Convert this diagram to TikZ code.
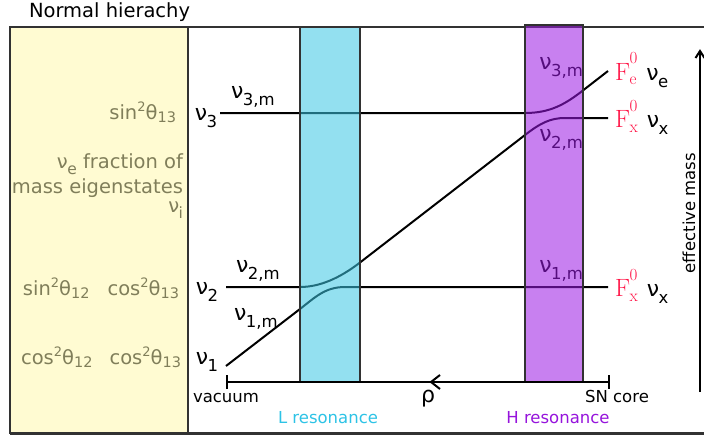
\documentclass[tikz,border=0pt]{standalone}
\usepackage{fontspec}
\setmainfont{DejaVu Sans}
\newfontfamily\lmr{Latin Modern Roman}
\usetikzlibrary{arrows.meta}
\definecolor{txtolive}{RGB}{128,126,90}
\definecolor{bandcyan}{RGB}{60,199,228}
\definecolor{bandpurple}{RGB}{155,24,228}
\definecolor{panelyellow}{RGB}{255,251,210}
\definecolor{fred}{RGB}{255,20,70}
\definecolor{lcyan}{RGB}{45,195,230}
\definecolor{hpurple}{RGB}{150,20,220}
\definecolor{framegray}{RGB}{50,50,50}
\newcommand{\nlab}[2]{{\fontsize{22}{22}\selectfont #1}\kern-0.5pt\raisebox{-0.65ex}{\fontsize{16.5}{16.5}\selectfont #2}}
\newcommand{\nlabs}[2]{#1\kern-0.5pt\raisebox{-0.6ex}{\fontsize{15.5}{15.5}\selectfont #2}}
\newcommand{\tsp}[1]{\raisebox{0.8ex}{\fontsize{13}{13}\selectfont #1}}
\newcommand{\tsb}[1]{\raisebox{-0.2ex}{\fontsize{14.5}{14.5}\selectfont #1}}
\newcommand{\fsym}[1]{{\color{fred}\lmr\fontsize{25}{25}\selectfont F\kern-0.5pt\raisebox{-0.45ex}{\fontsize{17}{17}\selectfont\vbox{\hbox{0}\vskip 4pt\hbox{#1}}}}}
\newcommand{\flab}[2]{\fsym{#1}\hspace{9pt}\nlab{ν}{#2}}
\begin{document}
\begin{tikzpicture}[x=1pt,y=-1pt,
  every node/.style={inner sep=0pt,outer sep=0pt,font=\fontsize{19.5}{23}\selectfont},
  lev/.style={line width=2pt,black},
  band/.style={draw=framegray,line width=1.5pt},
  lefttxt/.style={text=txtolive,anchor=east},
  small/.style={font=\fontsize{16.5}{19}\selectfont},
  chev/.style={line width=2pt,line join=miter}]
\useasboundingbox (0,0) rectangle (704,439);
% frame and panel
\fill[white] (0,0) rectangle (704,439);
\draw[framegray,line width=2pt] (10,27) -- (704,27);
\draw[framegray,line width=2.5pt] (10,433.5) -- (704,433.5);
\draw[framegray,line width=2pt,fill=panelyellow] (10,27) rectangle (188,433);
\node[anchor=base west] (title) at (29,17) {Normal hierachy};
% left panel texts
\node[lefttxt] (s13) at (176,112) {sin\tsp{2}θ\tsb{13}};
\node[lefttxt] (fr1) at (183,164) {\nlabs{ν}{e} fraction of};
\node[lefttxt] (fr2) at (183,188) {mass eigenstates};
\node[lefttxt] (fr3) at (183,210) {\nlabs{ν}{i}};
\node[lefttxt] (s12) at (179,288) {sin\tsp{2}θ\tsb{12}\hspace{18pt}cos\tsp{2}θ\tsb{13}};
\node[lefttxt] (c12) at (181,357) {cos\tsp{2}θ\tsb{12}\hspace{17pt}cos\tsp{2}θ\tsb{13}};
% coordinates of levels
\coordinate (n3L) at (220,113);
\coordinate (n3a) at (525,113);
\coordinate (d3) at (583,90.4);
\coordinate (Fe) at (608,71);
\coordinate (n2L) at (226,287);
\coordinate (n2a) at (300,287);
\coordinate (d2) at (360,262.5);
\coordinate (h2) at (525,135);
\coordinate (x2) at (565,118);
\coordinate (Fx2) at (608,118);
\coordinate (n1L) at (226,366);
\coordinate (d1) at (300,309);
\coordinate (x1) at (345,287);
\coordinate (Fx1) at (608,287);
% level lines
\draw[lev] (n3L) -- (n3a) .. controls (550,113) and (565,104.4) .. (d3) -- (Fe);
\draw[lev] (n2L) -- (n2a) .. controls (320,287) and (340,277.9) .. (d2) -- (h2)
   .. controls (540,123.4) and (550,118) .. (x2) -- (Fx2);
\draw[lev] (n1L) -- (d1) .. controls (315,297.4) and (325,287) .. (x1) -- (Fx1);
% labels inside purple band (under band)
\node[anchor=east] (p3m) at (583,68) {\nlab{ν}{3,m}};
\node[anchor=east] (p2m) at (583,140) {\nlab{ν}{2,m}};
\node[anchor=east] (p1m) at (583,271) {\nlab{ν}{1,m}};
% bands
\fill[bandcyan,fill opacity=0.55] (300,27) rectangle (360,382);
\draw[band] (300,27) rectangle (360,382);
\fill[bandpurple,fill opacity=0.55] (525,25) rectangle (583,382);
\draw[band] (525,25) rectangle (583,382);
% density axis
\coordinate (axL) at (226,382);
\coordinate (axR) at (610,382);
\coordinate (chA) at (440,375);
\coordinate (chM) at (431,382);
\coordinate (chB) at (440,389);
\draw[line width=2pt,{Bar[width=14pt]}-{Bar[width=14pt]}] (axL) -- (axR);
\draw[chev] (chA) -- (chM) -- (chB);
\node[font=\fontsize{22}{22}\selectfont] (rho) at (428,399) {ρ};
\node[small] (vac) at (226,398) {vacuum};
\node[small] (snc) at (617,396) {SN core};
\node[small,text=lcyan] (lres) at (328,418) {L resonance};
\node[small,text=hpurple] (hres) at (558,418) {H resonance};
% effective mass arrow
\coordinate (emB) at (700,392);
\coordinate (emT) at (700,51);
\coordinate (emA) at (695.5,58);
\coordinate (emC) at (704.5,58);
\draw[line width=2pt] (emB) -- (emT);
\draw[chev] (emA) -- (emT) -- (emC);
\node[small,rotate=90] (em) at (689,213) {effective mass};
% level labels
\node (v3) at (206,118) {\nlab{ν}{3}};
\node (v3m) at (253,97) {\nlab{ν}{3,m}};
\node (v2) at (207,292) {\nlab{ν}{2}};
\node (v2m) at (258,271) {\nlab{ν}{2,m}};
\node (v1m) at (256,319) {\nlab{ν}{1,m}};
\node (v1) at (207,362) {\nlab{ν}{1}};
\node[anchor=west] (fe) at (615,70) {\flab{e}{e}};
\node[anchor=west] (fx2) at (615,117) {\flab{x}{x}};
\node[anchor=west] (fx1) at (615,286) {\flab{x}{x}};
\end{tikzpicture}
\end{document}
